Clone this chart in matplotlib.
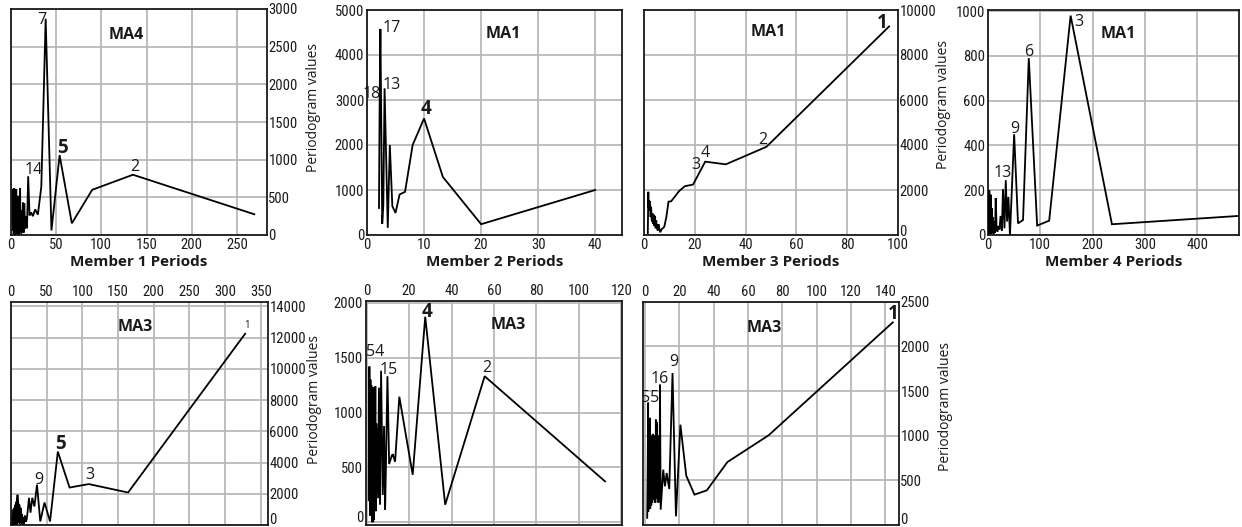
import matplotlib
matplotlib.use("Agg")
import matplotlib.pyplot as plt
import matplotlib.transforms as mtransforms
from matplotlib import font_manager

# ---------------- data ----------------
# Panel 1: MA4, Member 1
m1_top_periods = [269, 135, 90, 67.5, 54, 45, 38.6, 33.8, 30, 27, 24.5, 22.5, 20.8, 19.3, 18, 16.9,
                  15.9, 15, 14.2, 13.5, 12.9, 12.3, 11.7, 11.3, 10.8, 10.4, 10, 9.6, 9.3, 9, 8.7, 8.4,
                  8.2, 7.9, 7.7, 7.5, 7.3, 7.1, 6.9, 6.7, 6.5, 6.3, 6.1, 5.9, 5.7, 5.5, 5.3, 5.1, 4.9,
                  4.7, 4.5, 4.3, 4.1, 3.9, 3.7, 3.5, 3.3, 3.1, 2.9, 2.7, 2.5, 2.3, 2.1]
m1_top_values = [275, 800, 600, 155, 1060, 60, 2870, 640, 270, 340, 250, 300, 260, 780, 90, 250,
                 80, 420, 30, 430, 120, 250, 20, 330, 60, 620, 150, 400, 10, 520, 200, 300,
                 40, 450, 100, 350, 10, 280, 520, 50, 380, 150, 610, 20, 300, 450, 80, 360, 0,
                 500, 200, 330, 40, 620, 100, 420, 10, 300, 560, 60, 400, 150, 600]

# Panel 2: MA1, Member 2
m2_top_periods = [40, 20, 13.3, 10, 8, 6.67, 5.71, 5, 4.44, 4, 3.64, 3.08, 2.86, 2.67, 2.35, 2.22, 2.1]
m2_top_values = [1000, 240, 1290, 2590, 2000, 960, 900, 490, 640, 2000, 160, 3260, 660, 250, 4580, 3050, 600]

# Panel 3: MA1, Member 3
m3_top_periods = [96.5, 48.2, 32.2, 24.1, 19.3, 16.1, 13.8, 12.1, 10.7, 9.65, 8.8, 8.0, 7.4, 6.9, 6.4,
                  6.0, 5.7, 5.4, 5.1, 4.8, 4.6, 4.4, 4.2, 4.0, 3.8, 3.6, 3.4, 3.2, 3.0, 2.8, 2.6, 2.4,
                  2.2, 2.0, 1.8, 1.7, 1.5]
m3_top_values = [9270, 3920, 3140, 3260, 2240, 2170, 1950, 1700, 1500, 1480, 800, 370, 300, 250, 120,
                 300, 480, 200, 350, 650, 300, 500, 850, 400, 900, 500, 950, 600, 700, 1250, 800, 1500,
                 1100, 1550, 1200, 1920, 80]

# Panel 4: MA1, Member 4
m4_top_periods = [478, 237, 158, 117, 94, 78, 67, 57.4, 50, 42, 39, 36.5, 34, 31.5, 28.7, 26.5, 24, 22,
                  20, 18, 16.5, 14.7, 13.5, 12, 10.5, 9, 8, 7, 6, 5, 4.2, 3.5, 3, 2.5, 2, 1.5, 1]
m4_top_values = [85, 48, 980, 64, 42, 790, 67, 52, 450, 0, 170, 60, 245, 30, 205, 20, 85, 25,
                 40, 15, 30, 165, 10, 60, 5, 80, 10, 120, 5, 180, 20, 150, 10, 200, 5, 190, 0]

# Panel 5: MA3, Member 1
m1_bot_periods = [328, 164, 109, 82, 65.6, 54.7, 46.9, 41, 36.4, 32.8, 29.8, 27.3, 25.2, 23.4, 21.9,
                  20.5, 19.3, 18.2, 17.3, 16.4, 15.6, 14.9, 14.3, 13.7, 13.1, 12.6, 12.1, 11.7, 11.3,
                  10.9, 10.6, 10.2, 9.9, 9.6, 9.4, 9.1, 8.9, 8.6, 8.4, 8.2, 8.0, 7.6, 7.3, 7.0, 6.7,
                  6.4, 6.1, 5.8, 5.5, 5.2, 4.9, 4.6, 4.3, 4.0, 3.7, 3.4, 3.1, 2.8, 2.5, 2.2, 2.0]
m1_bot_values = [12250, 2080, 2620, 2400, 4700, 230, 1440, 230, 2580, 1190, 1740, 790, 1740, 900, 340,
                 200, 600, 100, 100, 500, 50, 700, 150, 1100, 200, 900, 80, 1300, 300,
                 1000, 150, 1400, 400, 1600, 200, 1936, 500, 1700, 100, 1400, 300, 1500, 50, 1200, 600,
                 1000, 100, 1300, 200, 900, 50, 1100, 300, 700, 0, 1000, 200, 800, 100, 600, 0]

# Panel 6: MA3, Member 2
m2_bot_periods = [112.3, 55.6, 37, 27.6, 21.7, 15.4, 13.4, 12.3, 11.8, 10.6, 9.8, 9.1, 8.7, 8.2, 7.6,
                  6.8, 6.3, 5.8, 5.4, 4.7, 4.3, 4.1, 3.9, 3.7, 3.5, 3.3, 3.1, 2.95, 2.8, 2.65, 2.5,
                  2.4, 2.3, 2.2, 2.1, 2.0, 1.9, 1.8, 1.7, 1.6, 1.5, 1.4, 1.3, 1.2, 1.1, 1.0]
m2_bot_values = [372, 1331, 159, 1874, 432, 1144, 551, 620, 604, 530, 1331, 515, 115, 877, 248,
                 1381, 159, 1227, 218, 900, 100, 1240, 300, 1100, 20, 950, 0, 1230, 50, 1200, 0,
                 800, 180, 1250, 100, 1000, 250, 1300, 60, 1150, 200, 900, 1420, 230, 1300, 200]

# Panel 7: MA3, Member 3
m3_bot_periods = [144.4, 72, 48, 36, 28.8, 24, 20.6, 18, 16, 14.1, 12.6, 11.6, 10.6, 9.1, 8.7,
                  8.4, 8.1, 7.8, 7.5, 7.2, 6.9, 6.6, 6.3, 6.0, 5.7, 5.4, 5.1, 4.8, 4.5, 4.2, 3.9,
                  3.6, 3.3, 3.0, 2.7, 2.4, 2.1, 1.9, 1.8, 1.5, 1.25]
m3_bot_values = [2269, 1004, 705, 388, 340, 552, 1123, 97, 1701, 403, 582, 433, 619, 172, 1571,
                 300, 900, 250, 1000, 350, 1150, 300, 1180, 250, 1000, 300, 850, 280, 1020, 250, 900,
                 220, 1000, 180, 1200, 250, 1000, 150, 1370, 600, 80]

# ---------------- fonts ----------------
_avail = {f.name for f in font_manager.fontManager.ttflist}


def pick(*names):
    for n in names:
        if n in _avail:
            return n
    return "DejaVu Sans"


TICK_FONT = pick("Liberation Sans Narrow", "Roboto Condensed", "Liberation Sans")
TEXT_FONT = pick("Open Sans", "Noto Sans", "DejaVu Sans")

W, H = 1242, 527
fig = plt.figure(figsize=(W / 100, H / 100), dpi=100)
fig.patch.set_facecolor("white")


def add_axes(l, t, r, b):
    return fig.add_axes([l / W, 1 - b / H, (r - l) / W, (b - t) / H])


GRID = "#b3b3b3"
INK = "#1a1a1a"

panels = [
    dict(box=(10.7, 9, 267, 235), x=m1_top_periods, y=m1_top_values, xlim=(0, 283), ylim=(0, 3000),
         xt=range(0, 251, 50), yt=range(0, 3001, 500), yside="right", xside="bottom",
         title=("MA4", 128, 2660), xlabel="Member 1 Periods", lift0=0,
         notes=[("7", 34.2, 2850, False), ("5", 57, 1150, True), ("14", 25, 860, False), ("2", 137, 905, False)],
         ylabel=(1.18, 0.566)),
    dict(box=(367, 10, 622, 235), x=m2_top_periods, y=m2_top_values, xlim=(0, 44.7), ylim=(0, 5000),
         xt=range(0, 41, 10), yt=range(0, 5001, 1000), yside="left", xside="bottom",
         title=("MA1", 23.9, 4470), xlabel="Member 2 Periods", lift0=1,
         notes=[("17", 4.33, 4600, False), ("13", 4.39, 3340, False), ("18", 0.82, 3130, False), ("4", 10.4, 2800, True)],
         ylabel=None),
    dict(box=(644, 10, 898, 235), x=m3_top_periods, y=m3_top_values, xlim=(0, 100), ylim=(0, 10000),
         xt=range(0, 101, 20), yt=range(0, 10001, 2000), yside="right", xside="bottom",
         title=("MA1", 48.9, 9020), xlabel="Member 3 Periods", lift0=5,
         notes=[("1", 93.7, 9420, True), ("2", 46.7, 4230, False), ("4", 24, 3640, False), ("3", 20.3, 3110, False)],
         ylabel=(1.18, 0.58)),
    dict(box=(988, 10, 1239, 235), x=m4_top_periods, y=m4_top_values, xlim=(0, 480), ylim=(0, 1005),
         xt=range(0, 401, 100), yt=range(0, 1001, 200), yside="left", xside="bottom",
         title=("MA1", 248.8, 900), xlabel="Member 4 Periods", lift0=0,
         notes=[("3", 174, 950, False), ("6", 78.5, 818, False), ("9", 51, 475, False), ("13", 28.7, 278, False)],
         ylabel=None),
    dict(box=(11, 301.7, 268, 525), x=m1_bot_periods, y=m1_bot_values, xlim=(0, 360), ylim=(0, 14300),
         xt=range(0, 351, 50), yt=range(0, 14001, 2000), yside="right", xside="top",
         title=("MA3", 173.8, 12650), xlabel=None, lift0=6,
         notes=[("5", 68.7, 5200, True), ("9", 38.3, 2880, False), ("3", 110.7, 3200, False)],
         small=("1", 331, 12780), ylabel=(1.18, 0.56)),
    dict(box=(366, 300.7, 622, 525), x=m2_bot_periods, y=m2_bot_values, xlim=(-0.3, 120.3), ylim=(-26, 2020),
         xt=range(0, 121, 20), yt=range(0, 2001, 500), yside="left", xside="top",
         title=("MA3", 66.9, 1800), xlabel=None, lift0=6,
         notes=[("4", 28.3, 1915, True), ("54", 3.9, 1548, False), ("15", 10.2, 1391, False), ("2", 56.4, 1406, False)],
         ylabel=None),
    dict(box=(643, 301.7, 899, 525), x=m3_bot_periods, y=m3_bot_values, xlim=(-1.2, 148), ylim=(0, 2500),
         xt=range(0, 141, 20), yt=range(0, 2501, 500), yside="right", xside="top",
         title=("MA3", 69.2, 2200), xlabel=None, lift0=6,
         notes=[("1", 144.4, 2365, True), ("9", 16.5, 1820, False), ("16", 8.7, 1640, False), ("55", 2.8, 1425, False)],
         ylabel=(1.18, 0.53)),
]

for p in panels:
    ax = add_axes(*p["box"])
    ax.plot(p["x"], p["y"], color="black", lw=1.3, solid_joinstyle="miter", zorder=3)
    ax.set_xlim(*p["xlim"])
    ax.set_ylim(*p["ylim"])
    ax.set_xticks(list(p["xt"]))
    ax.set_yticks(list(p["yt"]))
    ax.grid(True, color=GRID, lw=1.2, zorder=0)
    ax.set_axisbelow(True)
    for s in ax.spines.values():
        s.set_color(INK)
        s.set_linewidth(1.3)
    if p["yside"] == "right":
        ax.yaxis.tick_right()
        ax.tick_params(axis="y", pad=1)
    else:
        ax.tick_params(axis="y", pad=2)
    if p["xside"] == "top":
        ax.xaxis.tick_top()
    ax.tick_params(axis="both", length=0, labelsize=10.5, labelcolor=INK)
    ax.tick_params(axis="x", pad=2)
    for lab in ax.get_xticklabels() + ax.get_yticklabels():
        lab.set_fontfamily(TICK_FONT)
    if p["lift0"]:
        lab0 = ax.get_yticklabels()[0]
        lab0.set_transform(lab0.get_transform() +
                           mtransforms.ScaledTranslation(0, p["lift0"] / 100, fig.dpi_scale_trans))
    t, tx, ty = p["title"]
    ax.text(tx, ty, t, ha="center", va="center", fontsize=11.5, fontweight="bold",
            family=TEXT_FONT, color=INK, zorder=4)
    for s, nx, ny, bold in p["notes"]:
        ax.text(nx, ny, s, ha="center", va="center", fontsize=13.5 if bold else 11.5,
                fontweight="bold" if bold else "normal", family=TEXT_FONT, color=INK, zorder=4)
    if "small" in p:
        s, nx, ny = p["small"]
        ax.text(nx, ny, s, ha="center", va="center", fontsize=7, family=TEXT_FONT, color=INK)
    if p["xlabel"]:
        ax.set_xlabel(p["xlabel"], fontsize=11, fontweight="bold", family=TEXT_FONT, va="center",
                      color=INK)
        ax.xaxis.set_label_coords(0.5, -0.118)
    if p["ylabel"]:
        ax.yaxis.set_label_position("right")
        ax.set_ylabel("Periodogram values", fontsize=10, family=TEXT_FONT, va="center",
                      rotation=90, color=INK)
        ax.yaxis.set_label_coords(*p["ylabel"])

fig.savefig("out.png", dpi=100, facecolor="white")
